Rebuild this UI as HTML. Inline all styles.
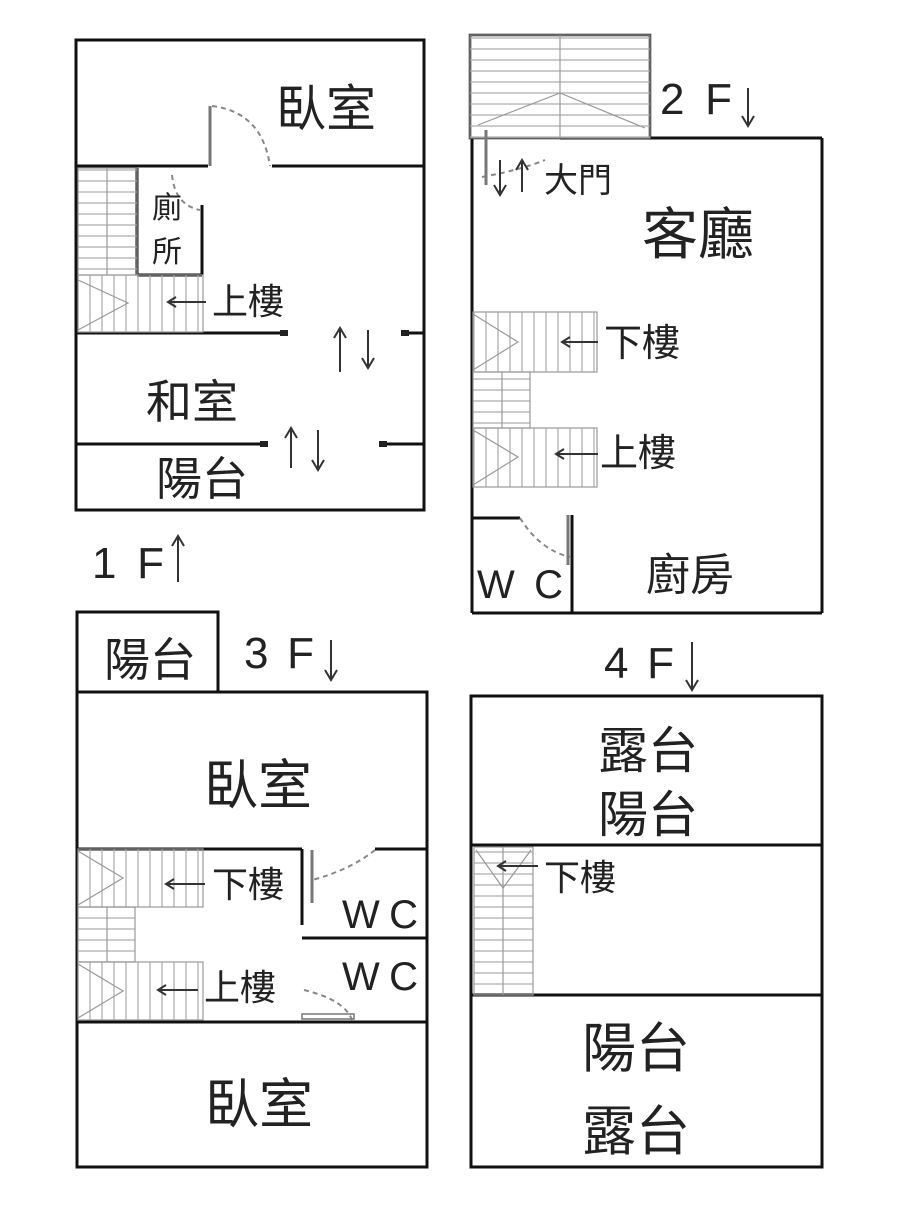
<!DOCTYPE html>
<html><head><meta charset="utf-8"><style>
html,body{margin:0;padding:0;background:#fff}
svg{display:block}
text{font-family:"Liberation Sans","Noto Sans CJK TC",sans-serif;fill:#222}
</style></head><body>
<svg width="900" height="1211" viewBox="0 0 900 1211" xmlns="http://www.w3.org/2000/svg">
<defs>
<pattern id="vt" width="12" height="10" patternUnits="userSpaceOnUse"><line x1="6" y1="0" x2="6" y2="10" stroke="#aaa" stroke-width="1.2"/></pattern>
<pattern id="ht" width="10" height="11" patternUnits="userSpaceOnUse"><line x1="0" y1="5" x2="10" y2="5" stroke="#aaa" stroke-width="1.2"/></pattern>
</defs>
<g fill="none" stroke="#111" stroke-width="3">
<rect x="76" y="40" width="348" height="470"/>
<line x1="76" y1="166" x2="208" y2="166"/>
<line x1="272" y1="166" x2="424" y2="166"/>
<line x1="137" y1="168" x2="137" y2="275"/>
<line x1="137" y1="275" x2="202" y2="275"/>
<line x1="202" y1="205" x2="202" y2="275"/>
<line x1="76" y1="333" x2="285" y2="333"/>
<line x1="405" y1="333" x2="424" y2="333"/>
<line x1="76" y1="444" x2="265" y2="444"/>
<line x1="383" y1="444" x2="424" y2="444"/>
<rect x="470" y="35" width="180" height="103" stroke-width="2.5"/>
<line x1="472" y1="138" x2="472" y2="613"/>
<line x1="560" y1="138" x2="822" y2="138"/>
<line x1="822" y1="138" x2="822" y2="613"/>
<line x1="472" y1="613" x2="822" y2="613"/>
<line x1="472" y1="518" x2="520" y2="518"/>
<line x1="572" y1="515" x2="572" y2="613"/>
<rect x="77" y="612" width="141" height="80"/>
<rect x="77" y="692" width="350" height="475"/>
<line x1="77" y1="849" x2="302" y2="849"/>
<line x1="375" y1="849" x2="427" y2="849"/>
<line x1="302" y1="849" x2="302" y2="925"/>
<line x1="302" y1="938" x2="427" y2="938"/>
<line x1="77" y1="1022" x2="427" y2="1022"/>
<rect x="471" y="696" width="351" height="471"/>
<line x1="471" y1="845" x2="822" y2="845"/>
<line x1="471" y1="995" x2="822" y2="995"/>
</g>
<g stroke="#999" stroke-width="1.2">
<rect x="78" y="168" width="59" height="107" fill="url(#ht)"/>
<line x1="107" y1="168" x2="107" y2="275"/>
<rect x="78" y="275" width="125" height="57" fill="url(#vt)"/>
<polyline points="78,280 128,303 78,330" fill="none"/>
<rect x="470" y="35" width="180" height="103" fill="url(#ht)"/>
<line x1="560" y1="35" x2="560" y2="138"/>
<polyline points="478,125 560,93 645,128" fill="none"/>
<rect x="473" y="312" width="124" height="60" fill="url(#vt)"/>
<polyline points="473,314 518,342 473,370" fill="none"/>
<rect x="473" y="372" width="57" height="56" fill="url(#ht)"/>
<line x1="502" y1="372" x2="502" y2="428"/>
<rect x="473" y="428" width="124" height="59" fill="url(#vt)"/>
<polyline points="473,430 518,457 473,485" fill="none"/>
<rect x="78" y="849" width="125" height="58" fill="url(#vt)"/>
<polyline points="78,851 123,878 78,905" fill="none"/>
<rect x="78" y="907" width="57" height="55" fill="url(#ht)"/>
<line x1="107" y1="907" x2="107" y2="962"/>
<rect x="78" y="962" width="125" height="58" fill="url(#vt)"/>
<polyline points="78,964 123,991 78,1018" fill="none"/>
<rect x="474" y="847" width="59" height="148" fill="url(#ht)"/>
<line x1="503" y1="847" x2="503" y2="995"/>
<polyline points="476,850 503,888 531,850" fill="none"/>
</g>
<g fill="none" stroke="#888" stroke-width="2" stroke-dasharray="5,4">
<path d="M212,106 Q262,112 270,166"/>
<path d="M172,175 Q175,205 200,210"/>
<path d="M482,177 Q520,170 545,160"/>
<path d="M520,518 Q540,550 570,557"/>
<path d="M375,850 Q350,870 312,880"/>
<path d="M304,990 Q345,1000 352,1020"/>
</g>
<g stroke="#777" stroke-width="3">
<line x1="210" y1="106" x2="210" y2="166"/>
<line x1="486" y1="130" x2="486" y2="185"/>
<line x1="568" y1="515" x2="568" y2="565"/>
<line x1="312" y1="850" x2="312" y2="903"/>
<rect x="302" y="1014" width="52" height="5" fill="none" stroke-width="1.5"/>
</g>
<g fill="#222">
<rect x="280" y="330" width="8" height="6"/><rect x="401" y="330" width="8" height="6"/>
<rect x="260" y="441" width="8" height="6"/><rect x="379" y="441" width="8" height="6"/>
</g>
<g stroke="#333" stroke-width="2" fill="none">
<path d="M340,372 V328 M334,338 L340,328 L346,338"/>
<path d="M368,330 V368 M362,358 L368,368 L374,358"/>
<path d="M291,468 V428 M285,438 L291,428 L297,438"/>
<path d="M318,430 V470 M312,460 L318,470 L324,460"/>
<path d="M748,88 V126 M742,116 L748,126 L754,116"/>
<path d="M178,582 V536 M172,546 L178,536 L184,546"/>
<path d="M331,640 V680 M325,670 L331,680 L337,670"/>
<path d="M692,642 V690 M686,680 L692,690 L698,680"/>
<path d="M500,160 V195 M494,185 L500,195 L506,185"/>
<path d="M522,192 V160 M516,170 L522,160 L528,170"/>
<path d="M206,302 H168 M176,297 L168,302 L176,307"/>
<path d="M598,342 H562 M570,337 L562,342 L570,347"/>
<path d="M598,454 H556 M564,449 L556,454 L564,459"/>
<path d="M205,884 H166 M174,879 L166,884 L174,889"/>
<path d="M198,990 H158 M166,985 L158,990 L166,995"/>
<path d="M538,866 H498 M506,861 L498,866 L506,871"/>
</g>
<text x="326" y="126" font-size="50" text-anchor="middle">臥室</text>
<text x="167" y="218" font-size="30" text-anchor="middle">廁</text>
<text x="167" y="262" font-size="30" text-anchor="middle">所</text>
<text x="248" y="314" font-size="36" text-anchor="middle">上樓</text>
<text x="192" y="418" font-size="46" text-anchor="middle">和室</text>
<text x="202" y="495" font-size="46" text-anchor="middle">陽台</text>
<text x="92" y="578" font-size="44" textLength="72">1 F</text>
<text x="660" y="114" font-size="44" textLength="72">2 F</text>
<text x="244" y="668" font-size="44" textLength="70">3 F</text>
<text x="604" y="678" font-size="44" textLength="70">4 F</text>
<text x="578" y="192" font-size="34" text-anchor="middle">大門</text>
<text x="698" y="254" font-size="56" text-anchor="middle">客廳</text>
<text x="642" y="356" font-size="38" text-anchor="middle">下樓</text>
<text x="638" y="466" font-size="38" text-anchor="middle">上樓</text>
<text x="520" y="598" font-size="40" text-anchor="middle" textLength="86">W C</text>
<text x="690" y="590" font-size="44" text-anchor="middle">廚房</text>
<text x="150" y="676" font-size="46" text-anchor="middle">陽台</text>
<text x="258" y="804" font-size="54" text-anchor="middle">臥室</text>
<text x="248" y="897" font-size="36" text-anchor="middle">下樓</text>
<text x="240" y="1000" font-size="36" text-anchor="middle">上樓</text>
<text x="380" y="928" font-size="40" text-anchor="middle" textLength="76">W C</text>
<text x="380" y="990" font-size="40" text-anchor="middle" textLength="76">W C</text>
<text x="259" y="1123" font-size="54" text-anchor="middle">臥室</text>
<text x="648" y="768" font-size="50" text-anchor="middle">露台</text>
<text x="648" y="832" font-size="50" text-anchor="middle">陽台</text>
<text x="580" y="890" font-size="36" text-anchor="middle">下樓</text>
<text x="636" y="1067" font-size="54" text-anchor="middle">陽台</text>
<text x="636" y="1150" font-size="54" text-anchor="middle">露台</text>
</svg>
</body></html>
